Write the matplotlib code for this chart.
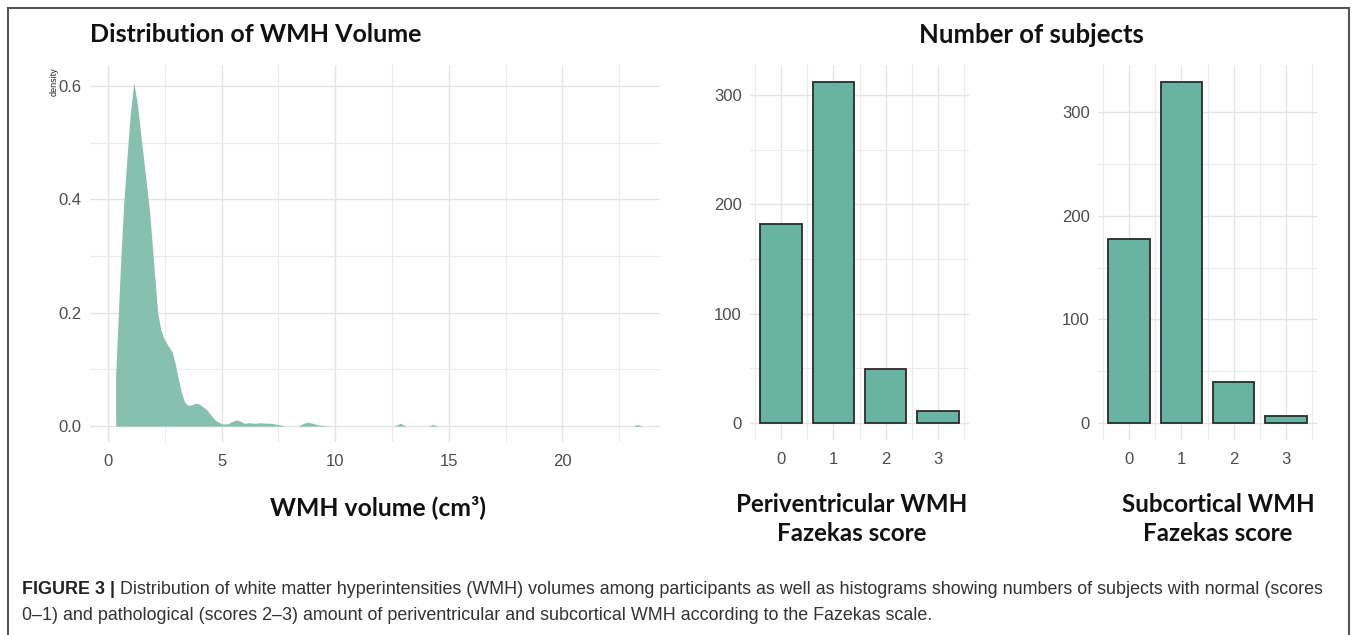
import matplotlib.pyplot as plt
import matplotlib.patches as mpatches
from matplotlib.ticker import MultipleLocator

# density curve of WMH volume
wmh_x = [0.33, 0.33, 0.45, 0.55, 0.68, 0.82, 0.97, 1.13, 1.28, 1.45, 1.62, 1.82, 2.0, 2.18,
         2.32, 2.45, 2.62, 2.82, 2.95, 3.09, 3.22, 3.36, 3.5, 3.64, 3.8, 3.96, 4.15, 4.36,
         4.55, 4.73, 5.0, 5.27, 5.45, 5.64, 5.8, 6.0, 6.2, 6.45, 6.7, 7.0, 7.2, 7.45, 7.8,
         8.36, 8.55, 8.76, 9.0, 9.27, 9.7, 12.6, 12.87, 13.1, 14.1, 14.3, 14.5, 23.1, 23.3, 23.5]
wmh_y = [0.0, 0.09, 0.2, 0.29, 0.39, 0.47, 0.55, 0.606, 0.57, 0.51, 0.45, 0.38, 0.29, 0.20,
         0.17, 0.155, 0.143, 0.131, 0.11, 0.084, 0.06, 0.043, 0.037, 0.037, 0.04, 0.04, 0.035, 0.028,
         0.018, 0.01, 0.004, 0.004, 0.008, 0.011, 0.009, 0.005, 0.006, 0.005, 0.006, 0.005, 0.005, 0.003, 0.0,
         0.0, 0.004, 0.007, 0.005, 0.002, 0.0, 0.0, 0.005, 0.0, 0.0, 0.003, 0.0, 0.0, 0.003, 0.0]

scores = [0, 1, 2, 3]
periventricular = [182, 312, 49, 11]
subcortical = [178, 329, 40, 7]

W, H = 1358, 635
fig = plt.figure(figsize=(W / 100, H / 100), dpi=100)
fig.patch.set_facecolor('white')


def px_axes(x0, y0, x1, y1):
    return fig.add_axes([x0 / W, 1 - y1 / H, (x1 - x0) / W, (y1 - y0) / H])


def style(ax):
    for s in ax.spines.values():
        s.set_visible(False)
    ax.set_axisbelow(True)
    ax.grid(True, which='major', color='#e4e4e4', linewidth=1.0)
    ax.grid(True, which='minor', color='#ececec', linewidth=0.8)
    ax.tick_params(which='both', length=0, labelsize=12, labelcolor='#4d4d4d')
    ax.tick_params(axis='x', pad=9)
    ax.tick_params(axis='y', pad=6)
    for lab in ax.get_xticklabels() + ax.get_yticklabels():
        lab.set_fontfamily('Liberation Sans')


bold_font = 'Lato'
bar_color = '#69b3a2'

# density panel
ax1 = px_axes(90, 65, 660, 442)
ax1.fill_between(wmh_x, wmh_y, 0, color='#87c0af', linewidth=0)
ax1.set_xlim(-0.8, 24.3)
ax1.set_ylim(-0.028, 0.637)
ax1.xaxis.set_major_locator(MultipleLocator(5))
ax1.xaxis.set_minor_locator(MultipleLocator(2.5))
ax1.yaxis.set_major_locator(MultipleLocator(0.2))
ax1.yaxis.set_minor_locator(MultipleLocator(0.1))
ax1.yaxis.set_major_formatter(lambda v, p: f'{v:.1f}')
style(ax1)

# bar panels
ax2 = px_axes(750, 65, 969, 440)
ax3 = px_axes(1098, 65, 1317, 440)
for ax, vals in ((ax2, periventricular), (ax3, subcortical)):
    ax.bar(scores, vals, width=0.8, color=bar_color, edgecolor='#2b2b2b', linewidth=1.3)
    ax.set_xlim(-0.6, 3.6)
    ax.set_ylim(-max(vals) * 0.05, max(vals) * 1.05)
    ax.set_xticks(scores)
    ax.set_xticks([-0.5, 0.5, 1.5, 2.5, 3.5], minor=True)
    ax.yaxis.set_major_locator(MultipleLocator(100))
    ax.yaxis.set_minor_locator(MultipleLocator(50))
    style(ax)

# titles and axis labels
fig.text(90 / W, 1 - 35 / H, 'Distribution of WMH Volume', fontfamily=bold_font,
         fontweight='bold', fontsize=18, ha='left', va='center', color='#111111')
fig.text(1031 / W, 1 - 35 / H, 'Number of subjects', fontfamily=bold_font,
         fontweight='bold', fontsize=18.5, ha='center', va='center', color='#111111')
fig.text(54 / W, 1 - 67 / H, 'density', fontsize=6.5, rotation=90, ha='center', va='top',
         color='#222222', fontfamily='Liberation Sans')
fig.text(378 / W, 1 - 507 / H, 'WMH volume (cm³)', fontfamily=bold_font, fontweight='bold',
         fontsize=17.8, ha='center', va='center', color='#111111')
fig.text(852 / W, 1 - 519 / H, 'Periventricular WMH\nFazekas score', fontfamily=bold_font,
         fontweight='bold', fontsize=17.4, ha='center', va='center', color='#111111',
         linespacing=1.35)
fig.text(1218 / W, 1 - 519 / H, 'Subcortical WMH\nFazekas score', fontfamily=bold_font,
         fontweight='bold', fontsize=17.4, ha='center', va='center', color='#111111',
         linespacing=1.35)

# caption
cap_size = 12.9
cap1 = fig.text(22 / W, 1 - 590 / H, 'FIGURE 3 |', fontfamily='Liberation Sans',
                fontweight='bold', fontsize=cap_size, ha='left', va='center', color='#222222')
plt.annotate(' Distribution of white matter hyperintensities (WMH) volumes among participants as well as '
             'histograms showing numbers of subjects with normal (scores',
             xy=(1, 0), xycoords=cap1, va='bottom', ha='left', fontsize=cap_size,
             fontfamily='Liberation Sans', color='#333333', annotation_clip=False)
fig.text(22 / W, 1 - 615 / H, '0–1) and pathological (scores 2–3) amount of periventricular and subcortical '
         'WMH according to the Fazekas scale.', fontfamily='Liberation Sans', fontsize=cap_size,
         ha='left', va='center', color='#333333')

# outer frame
frame = mpatches.Rectangle((8 / W, -0.1), (1349 - 8) / W, 1 - 8 / H + 0.1, transform=fig.transFigure,
                           fill=False, edgecolor='#555555', linewidth=1.5)
fig.patches.append(frame)

fig.savefig('out.png', dpi=100)
